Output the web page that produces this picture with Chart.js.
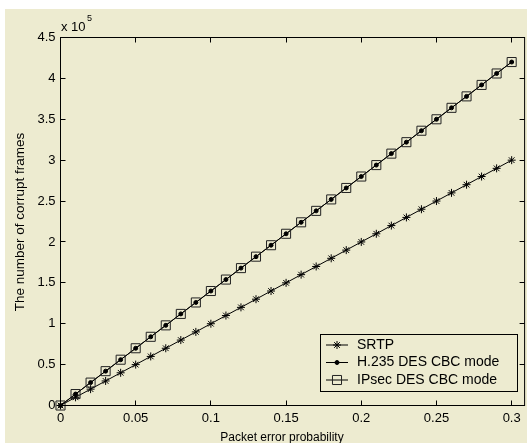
<!DOCTYPE html>
<html>
<head>
<meta charset="utf-8">
<script src="https://cdn.jsdelivr.net/npm/chart.js@4/dist/chart.umd.min.js"></script>
<style>
    html, body { margin: 0; padding: 0; background: #fff; }
    #wrap { width: 527px; height: 443px; overflow: hidden; }
</style>
</head>
<body>
<div id="wrap"><canvas id="corrupt" width="532" height="443"></canvas></div>
<script>
const probs = [0, 0.01, 0.02, 0.03, 0.04, 0.05, 0.06, 0.07, 0.08, 0.09, 0.10,
               0.11, 0.12, 0.13, 0.14, 0.15, 0.16, 0.17, 0.18, 0.19, 0.20,
               0.21, 0.22, 0.23, 0.24, 0.25, 0.26, 0.27, 0.28, 0.29, 0.30];

const srtp = [0, 10000, 20000, 30000, 40000, 50000, 60000, 70000, 80000, 90000, 100000,
              110000, 120000, 130000, 140000, 150000, 160000, 170000, 180000, 190000, 200000,
              210000, 220000, 230000, 240000, 250000, 260000, 270000, 280000, 290000, 300000];

const h235 = [0, 14000, 28000, 42000, 56000, 70000, 84000, 98000, 112000, 126000, 140000,
              154000, 168000, 182000, 196000, 210000, 224000, 238000, 252000, 266000, 280000,
              294000, 308000, 322000, 336000, 350000, 364000, 378000, 392000, 406000, 420000];

const ipsec = [0, 14000, 28000, 42000, 56000, 70000, 84000, 98000, 112000, 126000, 140000,
               154000, 168000, 182000, 196000, 210000, 224000, 238000, 252000, 266000, 280000,
               294000, 308000, 322000, 336000, 350000, 364000, 378000, 392000, 406000, 420000];

const seriesNames = ['SRTP', 'H.235 DES CBC mode', 'IPsec DES CBC mode'];

const xTicks = [0, 0.05, 0.1, 0.15, 0.2, 0.25, 0.3];
const xTickLabels = ['0', '0.05', '0.1', '0.15', '0.2', '0.25', '0.3'];
const yTicks = [0, 50000, 100000, 150000, 200000, 250000, 300000, 350000, 400000, 450000];
const yTickLabels = ['0', '0.5', '1', '1.5', '2', '2.5', '3', '3.5', '4', '4.5'];

const BG = 'rgb(237,235,208)';
const FONT = '"Liberation Sans", Arial, sans-serif';

function pts(ys) {
    return probs.map((p, i) => ({ x: p, y: ys[i] }));
}

const styles = [
    { pointStyle: 'star', radius: 4, backgroundColor: '#000', borderColor: '#000' },
    { pointStyle: 'circle', radius: 2, backgroundColor: '#000', borderColor: '#000' },
    { pointStyle: 'rect', radius: 6.4, backgroundColor: 'rgba(0,0,0,0)', borderColor: '#222' }
];

const series = [srtp, h235, ipsec];

const datasets = series.map((ys, i) => ({
    label: seriesNames[i],
    data: pts(ys),
    borderColor: '#000',
    borderWidth: 1,
    pointStyle: styles[i].pointStyle,
    pointRadius: styles[i].radius,
    pointBackgroundColor: styles[i].backgroundColor,
    pointBorderColor: styles[i].borderColor,
    pointBorderWidth: 1,
    clip: false,
    order: 2 - i
}));

// matlab-ish frame: background, box, inward ticks, titles, legend
const matlabFrame = {
    id: 'matlabFrame',
    beforeDraw(chart) {
        const ctx = chart.ctx;
        ctx.save();
        ctx.fillStyle = '#fff';
        ctx.fillRect(0, 0, chart.width, chart.height);
        ctx.fillStyle = BG;
        ctx.fillRect(5, 9, chart.width - 5, chart.height - 9);
        ctx.restore();
    },
    afterDraw(chart) {
        const ctx = chart.ctx;
        const a = chart.chartArea;
        const xs = chart.scales.x, ys = chart.scales.y;
        ctx.save();
        ctx.strokeStyle = '#000';
        ctx.lineWidth = 1;
        ctx.strokeRect(a.left, a.top, a.right - a.left, a.bottom - a.top);

        ctx.beginPath();
        xTicks.forEach(v => {
            const px = Math.round(xs.getPixelForValue(v) - 0.5) + 0.5;
            ctx.moveTo(px, a.bottom); ctx.lineTo(px, a.bottom - 5);
            ctx.moveTo(px, a.top); ctx.lineTo(px, a.top + 5);
        });
        yTicks.forEach(v => {
            const py = Math.round(ys.getPixelForValue(v) - 0.5) + 0.5;
            ctx.moveTo(a.left, py); ctx.lineTo(a.left + 5, py);
            ctx.moveTo(a.right, py); ctx.lineTo(a.right - 5, py);
        });
        ctx.stroke();

        ctx.fillStyle = '#000';
        ctx.textBaseline = 'alphabetic';
        ctx.textAlign = 'left';
        ctx.font = '13px ' + FONT;
        ctx.fillText('x 10', 61, 31);
        ctx.font = '9px ' + FONT;
        ctx.fillText('5', 87, 20.5);

        ctx.font = '12px ' + FONT;
        ctx.textAlign = 'center';
        ctx.fillText('Packet error probability', 282, 441);

        ctx.save();
        ctx.translate(20, 222);
        ctx.rotate(-Math.PI / 2);
        ctx.font = '13.5px ' + FONT;
        ctx.textBaseline = 'middle';
        ctx.fillText('The number of corrupt frames', 0, 0);
        ctx.restore();

        // legend
        ctx.fillStyle = BG;
        ctx.fillRect(320.5, 334.5, 197, 57);
        ctx.strokeRect(320.5, 334.5, 197, 57);
        const rows = [345, 362.5, 380];
        chart.data.datasets.forEach((ds, i) => {
            const y = rows[i];
            ctx.strokeStyle = '#000';
            ctx.beginPath();
            ctx.moveTo(326, y); ctx.lineTo(348, y);
            ctx.stroke();
            ctx.fillStyle = styles[i].backgroundColor;
            ctx.strokeStyle = styles[i].borderColor;
            Chart.helpers.drawPoint(ctx, {
                pointStyle: styles[i].pointStyle,
                radius: styles[i].radius,
                rotation: 0,
                borderWidth: 1
            }, 337, y);
            ctx.fillStyle = '#000';
            ctx.font = '14px ' + FONT;
            ctx.textAlign = 'left';
            ctx.textBaseline = 'middle';
            ctx.fillText(ds.label, 357, y);
        });
        ctx.restore();
    }
};

new Chart(document.getElementById('corrupt'), {
    type: 'line',
    data: { datasets },
    plugins: [matlabFrame],
    options: {
        responsive: false,
        animation: false,
        devicePixelRatio: 1,
        layout: { padding: { top: 37.5, right: 3.5, left: 0, bottom: 0 } },
        plugins: { legend: { display: false }, tooltip: { enabled: false } },
        scales: {
            x: {
                type: 'linear',
                min: 0,
                max: 0.3086,
                afterBuildTicks: s => { s.ticks = xTicks.map(v => ({ value: v })); },
                afterFit: s => { s.height = 37.5; },
                grid: { display: false, drawTicks: false },
                border: { display: false },
                ticks: {
                    callback: (v, i) => xTickLabels[i],
                    font: { family: FONT, size: 13 },
                    color: '#000',
                    padding: 5,
                    maxRotation: 0,
                    autoSkip: false
                }
            },
            y: {
                type: 'linear',
                min: 0,
                max: 450000,
                afterBuildTicks: s => { s.ticks = yTicks.map(v => ({ value: v })); },
                afterFit: s => { s.width = 60.5; },
                grid: { display: false, drawTicks: false },
                border: { display: false },
                ticks: {
                    callback: (v, i) => yTickLabels[i],
                    font: { family: FONT, size: 13 },
                    color: '#000',
                    padding: 5,
                    autoSkip: false
                }
            }
        }
    }
});
</script>
</body>
</html>
